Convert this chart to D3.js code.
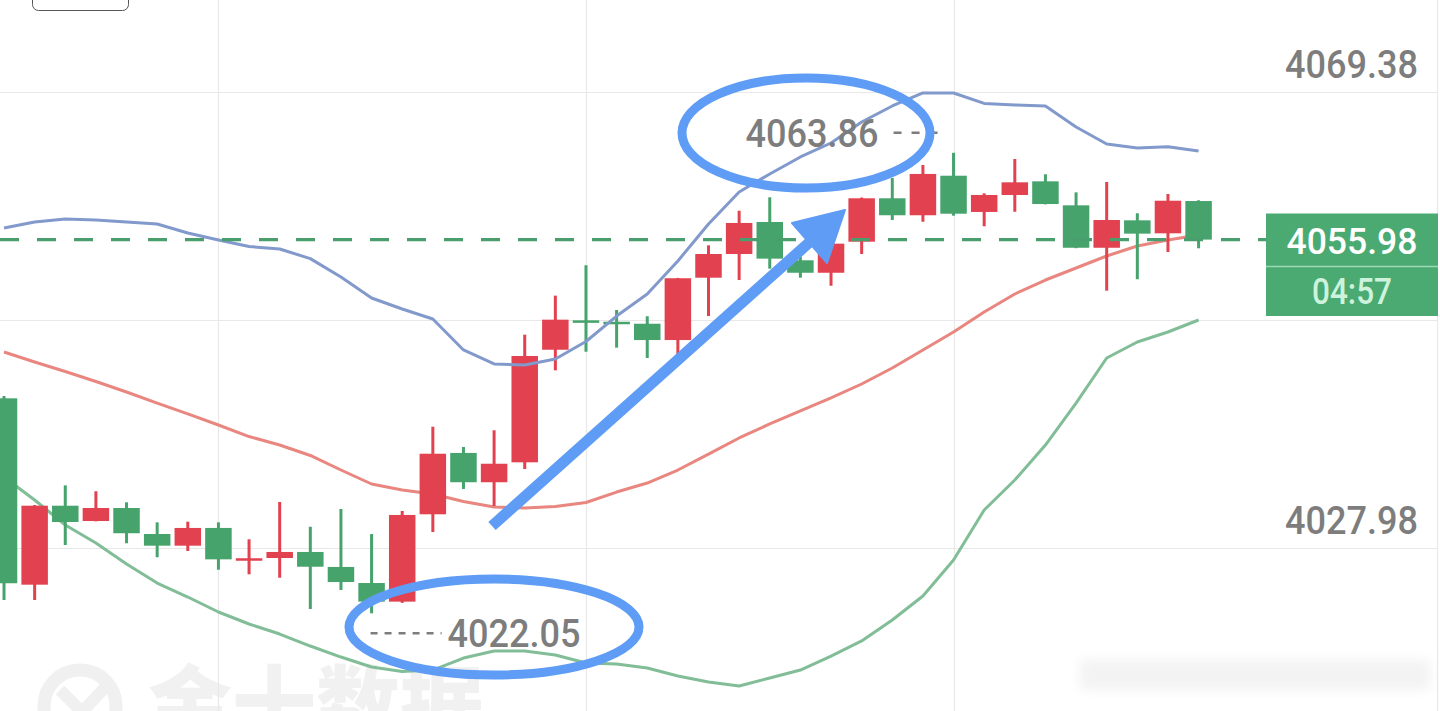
<!DOCTYPE html>
<html>
<head>
<meta charset="utf-8">
<script src="https://cdn.jsdelivr.net/npm/d3@7/dist/d3.min.js"></script>
<style>
  html, body { margin: 0; padding: 0; background: #ffffff; overflow: hidden; }
  svg { display: block; }
</style>
</head>
<body>
<svg id="chart" width="1440" height="711"></svg>
<script>
// ---------- DATA ----------
const candleIndex = d3.range(40);
const opens  = [4041.57,4024.65,4031.82,4030.43,4031.61,4029.25,4028.19,4029.80,4026.92,4027.07,
                4027.62,4026.26,4024.80,4023.11,4031.04,4036.61,4033.95,4035.76,4045.98,4048.65,
                4048.52,4048.34,4046.86,4052.52,4054.67,4057.58,4054.10,4052.97,4055.79,4059.73,
                4058.19,4061.78,4058.49,4060.03,4061.27,4059.09,4055.24,4057.73,4056.55,4059.48];
const highs  = [4041.78,4031.88,4033.67,4033.13,4032.13,4030.31,4030.37,4030.31,4028.77,4032.16,
                4029.91,4031.52,4029.25,4031.34,4038.99,4037.15,4038.67,4047.35,4050.89,4053.65,
                4049.59,4049.02,4052.50,4055.46,4058.60,4059.82,4054.43,4055.90,4059.80,4061.57,
                4062.75,4063.86,4060.18,4063.30,4061.91,4060.27,4061.21,4058.37,4060.12,4059.55];
const lows   = [4023.26,4023.26,4028.25,4030.40,4028.41,4027.14,4027.71,4026.01,4025.59,4025.28,
                4022.44,4024.17,4022.05,4023.00,4029.43,4033.34,4031.79,4035.15,4044.11,4045.80,
                4046.17,4045.23,4045.59,4049.04,4052.31,4053.34,4052.52,4051.79,4054.67,4057.76,
                4057.60,4058.15,4057.19,4058.51,4059.18,4055.20,4051.34,4052.38,4054.85,4055.19];
const closes = [4024.78,4031.82,4030.34,4031.61,4029.32,4028.19,4029.80,4026.95,4027.05,4027.62,
                4026.28,4024.89,4023.11,4030.98,4036.54,4033.95,4035.63,4045.41,4048.71,4048.47,
                4048.45,4046.86,4052.47,4054.67,4057.49,4054.25,4052.97,4055.61,4059.73,4058.19,
                4061.94,4058.33,4060.03,4061.18,4059.21,4055.24,4057.76,4056.52,4059.51,4055.98];
const bollUpper = [4057.03,4057.58,4057.85,4057.76,4057.58,4057.40,4056.58,4055.94,4055.35,4055.13,
                   4054.25,4052.58,4050.68,4049.68,4048.77,4045.96,4044.69,4044.59,4045.14,4046.73,
                   4049.04,4051.04,4054.04,4057.40,4060.30,4061.94,4063.48,4064.75,4066.66,4068.11,
                   4069.29,4069.29,4068.34,4068.20,4068.11,4066.20,4064.66,4064.30,4064.41,4064.02];
const bollMid   = [4045.77,4044.87,4044.00,4043.10,4042.14,4041.14,4040.15,4039.15,4038.10,4037.33,
                   4036.38,4035.06,4033.79,4033.25,4032.88,4032.20,4031.70,4031.61,4031.75,4032.11,
                   4033.06,4033.88,4035.06,4036.51,4037.97,4039.24,4040.42,4041.60,4042.87,4044.32,
                   4045.96,4047.59,4049.41,4051.04,4052.31,4053.40,4054.49,4055.40,4055.94,4056.40];
const bollLower = [4034.43,4032.34,4030.07,4028.43,4026.53,4024.80,4023.53,4022.17,4021.08,4020.17,
                   4019.08,4018.08,4017.18,4016.77,4016.90,4017.99,4018.63,4018.63,4018.27,4017.54,
                   4017.45,4017.09,4016.36,4015.81,4015.45,4016.18,4016.90,4018.17,4019.54,4021.44,
                   4023.62,4026.89,4031.43,4034.15,4037.33,4041.14,4045.23,4046.68,4047.59,4048.68];
const gridTicks = [4069.38, 4048.68, 4027.98];
const labelTicks = [4069.38, 4027.98];
const yTickLabels = ["4069.38", "4027.98"];
const lastPrice = 4055.98;
const lastPriceLabel = "4055.98";
const countdownLabel = "04:57";
const highValue = 4063.86, highLabel = "4063.86", highIndex = 31;
const lowValue = 4022.05, lowLabel = "4022.05", lowIndex = 12;
const watermark = "金十数据";

// ---------- STYLE ----------
const RED = "#e2414f", GREEN = "#46a36c";
const BLUE_BAND = "#8299cc", MID_BAND = "#e8867f", LOW_BAND = "#81bd97";
const ANNOT = "#5f9cf5";
const GRID = "#e8e8e8";
const LABEL = "#7d7d7d";

const svg = d3.select("#chart");
const W = 1440, H = 711;

// ---------- SCALES ----------
const x = d3.scaleBand().domain(candleIndex).range([-11.3, 1213.9])
  .paddingInner(0.135).paddingOuter(0.0675);
const cx = i => x(i) + x.bandwidth() / 2;
const y = d3.scaleLinear().domain([4027.98, 4069.38]).range([548, 92]);

// ---------- WATERMARK ----------
const wm = svg.append("g").attr("class", "watermark");
wm.append("circle").attr("cx", 80).attr("cy", 706).attr("r", 36)
  .attr("fill", "none").attr("stroke", "#f0f0f0").attr("stroke-width", 13);
wm.append("path").attr("d", "M60,690 L82,712 L112,680")
  .attr("fill", "none").attr("stroke", "#f0f0f0").attr("stroke-width", 12);
wm.append("text").attr("x", 148).attr("y", 736)
  .attr("font-family", "'Noto Sans CJK SC', sans-serif").attr("font-weight", 900)
  .attr("font-size", 84).attr("fill", "#f1f1f1").text(watermark);
const defs = svg.append("defs");
const blur = defs.append("filter").attr("id", "blur").attr("x", "-20%").attr("y", "-50%")
  .attr("width", "140%").attr("height", "200%");
blur.append("feGaussianBlur").attr("stdDeviation", 6);
svg.append("rect").attr("x", 1080).attr("y", 660).attr("width", 350).attr("height", 30)
  .attr("fill", "#f3f3f3").attr("filter", "url(#blur)");

// ---------- GRID ----------
const grid = svg.append("g").attr("class", "grid");
grid.selectAll("line.h").data(gridTicks).join("line").attr("class", "h")
  .attr("x1", 0).attr("x2", 1437).attr("y1", d => Math.round(y(d)) + 0.5).attr("y2", d => Math.round(y(d)) + 0.5)
  .attr("stroke", GRID).attr("stroke-width", 1.2);
const vIdx = [7, 19, 31];
grid.selectAll("line.v").data(vIdx).join("line").attr("class", "v")
  .attr("x1", d => Math.round(cx(d)) + 0.5).attr("x2", d => Math.round(cx(d)) + 0.5)
  .attr("y1", 0).attr("y2", H).attr("stroke", GRID).attr("stroke-width", 1.2);
grid.append("line").attr("x1", 1437.5).attr("x2", 1437.5).attr("y1", 0).attr("y2", H)
  .attr("stroke", GRID).attr("stroke-width", 1.2);

// top-left partial button
svg.append("rect").attr("x", 32.5).attr("y", -12).attr("width", 96).attr("height", 22.5)
  .attr("rx", 6).attr("fill", "#fff").attr("stroke", "#555").attr("stroke-width", 1);

// ---------- Y LABELS ----------
svg.append("g").selectAll("text").data(labelTicks).join("text")
  .attr("x", 1418).attr("y", d => y(d) - 14)
  .attr("text-anchor", "end").attr("font-family", "Roboto, sans-serif").attr("font-weight", 500)
  .attr("font-size", 39).attr("fill", LABEL)
  .attr("textLength", 133).attr("lengthAdjust", "spacingAndGlyphs")
  .text((d, i) => yTickLabels[i]);

// ---------- BOLLINGER BANDS ----------
const lineGen = arr => d3.line().x((d, i) => cx(i)).y(d => y(d))(arr);
svg.append("path").attr("d", lineGen(bollMid)).attr("fill", "none")
  .attr("stroke", MID_BAND).attr("stroke-width", 3).attr("stroke-linejoin", "round");
svg.append("path").attr("d", lineGen(bollLower)).attr("fill", "none")
  .attr("stroke", LOW_BAND).attr("stroke-width", 3).attr("stroke-linejoin", "round");

// ---------- CANDLES ----------
const candles = candleIndex.map(i => ({ i, o: opens[i], h: highs[i], l: lows[i], c: closes[i] }));
const colorOf = d => d.c >= d.o ? RED : GREEN;
const cg = svg.append("g").attr("class", "candles");
cg.selectAll("line").data(candles).join("line")
  .attr("x1", d => cx(d.i)).attr("x2", d => cx(d.i))
  .attr("y1", d => y(d.h)).attr("y2", d => y(d.l))
  .attr("stroke", colorOf).attr("stroke-width", 3);
cg.selectAll("rect").data(candles).join("rect")
  .attr("x", d => x(d.i)).attr("width", x.bandwidth())
  .attr("y", d => y(Math.max(d.o, d.c)))
  .attr("height", d => Math.max(2.5, Math.abs(y(d.o) - y(d.c))))
  .attr("fill", colorOf);

svg.append("path").attr("d", lineGen(bollUpper)).attr("fill", "none")
  .attr("stroke", BLUE_BAND).attr("stroke-width", 3).attr("stroke-linejoin", "round");

// ---------- LAST PRICE LINE + BOX ----------
svg.append("line").attr("x1", 0).attr("x2", 1266).attr("y1", y(lastPrice)).attr("y2", y(lastPrice))
  .attr("stroke", "#4a9e6d").attr("stroke-width", 3.2).attr("stroke-dasharray", "19,18");
svg.append("rect").attr("x", 1266).attr("y", 213.5).attr("width", 172).attr("height", 102.5)
  .attr("fill", "#4aaa72");
svg.append("line").attr("x1", 1266).attr("x2", 1438).attr("y1", 266.5).attr("y2", 266.5)
  .attr("stroke", "#9ed8b5").attr("stroke-width", 1.5);
svg.append("text").attr("x", 1352).attr("y", 253.5).attr("text-anchor", "middle")
  .attr("font-family", "Roboto, sans-serif").attr("font-weight", 500).attr("font-size", 37)
  .attr("fill", "#ffffff").attr("textLength", 131).attr("lengthAdjust", "spacingAndGlyphs")
  .text(lastPriceLabel);
svg.append("text").attr("x", 1352).attr("y", 303.5).attr("text-anchor", "middle")
  .attr("font-family", "Roboto, sans-serif").attr("font-weight", 500).attr("font-size", 37)
  .attr("fill", "#cdf3dc").attr("textLength", 80).attr("lengthAdjust", "spacingAndGlyphs")
  .text(countdownLabel);

// ---------- HIGH / LOW MARKERS ----------
const hy = y(highValue), ly = y(lowValue);
svg.append("text").attr("x", cx(highIndex) - 75).attr("y", hy - 6).attr("text-anchor", "end")
  .attr("font-family", "Roboto, sans-serif").attr("font-weight", 500).attr("font-size", 39).attr("fill", LABEL)
  .attr("textLength", 133).attr("lengthAdjust", "spacingAndGlyphs").text(highLabel);
svg.append("line").attr("x1", cx(highIndex) - 60).attr("x2", cx(highIndex) - 6)
  .attr("y1", hy - 20).attr("y2", hy - 20)
  .attr("stroke", LABEL).attr("stroke-width", 2.5).attr("stroke-dasharray", "8,10");
svg.append("text").attr("x", cx(lowIndex) + 76).attr("y", ly + 34).attr("text-anchor", "start")
  .attr("font-family", "Roboto, sans-serif").attr("font-weight", 500).attr("font-size", 39).attr("fill", LABEL)
  .attr("textLength", 133).attr("lengthAdjust", "spacingAndGlyphs").text(lowLabel);
svg.append("line").attr("x1", cx(lowIndex) - 1).attr("x2", cx(lowIndex) + 70)
  .attr("y1", ly + 20).attr("y2", ly + 20)
  .attr("stroke", LABEL).attr("stroke-width", 2.5).attr("stroke-dasharray", "7,7");

// ---------- HAND-DRAWN ANNOTATIONS ----------
const ann = svg.append("g").attr("class", "annotations");
ann.append("ellipse").attr("cx", 806).attr("cy", 133).attr("rx", 124).attr("ry", 55)
  .attr("fill", "none").attr("stroke", ANNOT).attr("stroke-width", 9);
ann.append("ellipse").attr("cx", 494).attr("cy", 627).attr("rx", 145).attr("ry", 48)
  .attr("fill", "none").attr("stroke", ANNOT).attr("stroke-width", 9);
ann.append("line").attr("x1", 492).attr("y1", 526).attr("x2", 812).attr("y2", 240)
  .attr("stroke", ANNOT).attr("stroke-width", 11);
ann.append("path").attr("d", "M845,210 L792,223 L827,263 Z").attr("fill", ANNOT)
  .attr("stroke", ANNOT).attr("stroke-width", 2).attr("stroke-linejoin", "round");
</script>
</body>
</html>
